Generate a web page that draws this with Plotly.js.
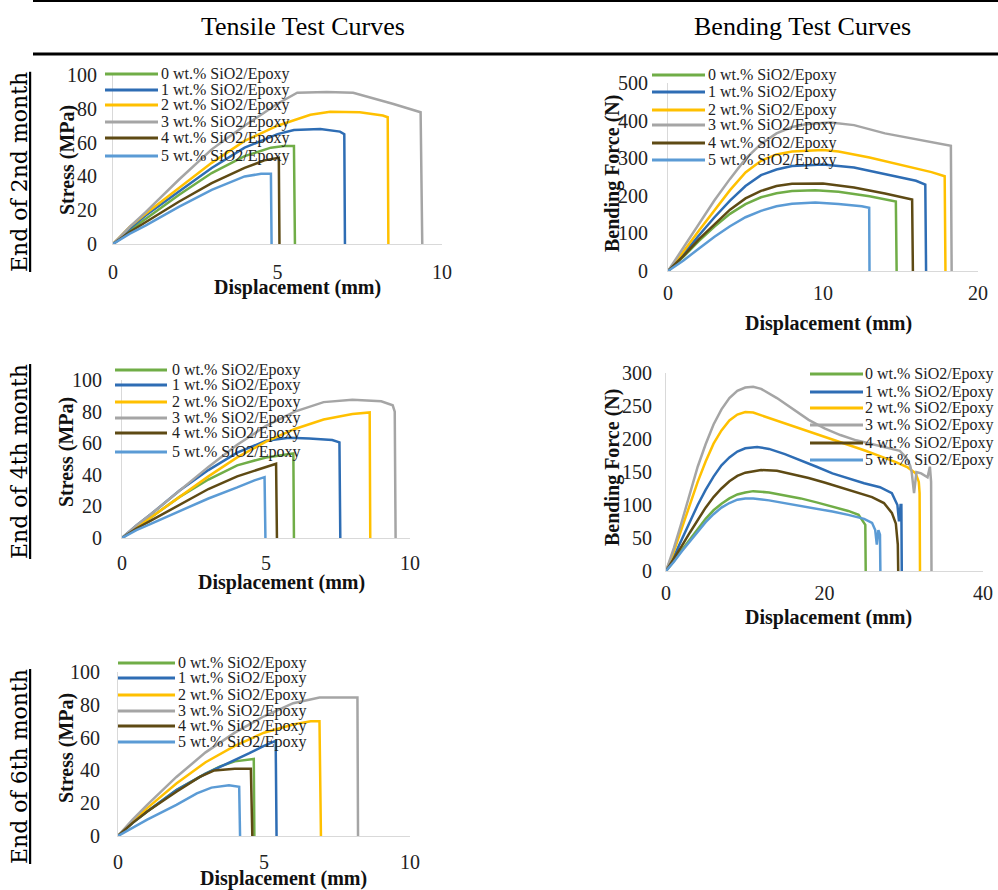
<!DOCTYPE html>
<html><head><meta charset="utf-8">
<script src="https://cdn.plot.ly/plotly-3.0.1.min.js"></script>
<style>html,body{margin:0;padding:0;background:#fff}#chart{width:998px;height:890px}</style>
</head><body><div id="chart"></div>
<script>
// ---------- text ----------
const SERIES = ['0 wt.% SiO2/Epoxy','1 wt.% SiO2/Epoxy','2 wt.% SiO2/Epoxy','3 wt.% SiO2/Epoxy','4 wt.% SiO2/Epoxy','5 wt.% SiO2/Epoxy'];
const HEADERS = ['Tensile Test Curves','Bending Test Curves'];
const ROW_LABELS = ['End of 2nd month','End of 4th month','End of 6th month'];
const X_TITLE = 'Displacement (mm)';
const Y_TITLE_TENSILE = 'Stress (MPa)';
const Y_TITLE_BENDING = 'Bending Force (N)';
// ---------- ticks ----------
const TENSILE_X_TICKS = [0,5,10];
const TENSILE_Y_TICKS = [0,20,40,60,80,100];
const BEND2_X_TICKS = [0,10,20];
const BEND2_Y_TICKS = [0,100,200,300,400,500];
const BEND4_X_TICKS = [0,20,40];
const BEND4_Y_TICKS = [0,50,100,150,200,250,300];

// ---------- data: tensile, end of 2nd month (displacement mm, stress MPa) ----------
const T2_DISP = [
  [0,0.5,1,2,3,4,4.8,5.2,5.5,5.53],
  [0,0.5,1,2,3,4,5,5.5,6.3,6.9,7.03,7.05],
  [0,0.5,1,2,3,4,5,6,6.6,7.5,8.2,8.35,8.37],
  [0,0.5,1,2,3,4,5,5.6,6.5,7.3,8.5,9.35,9.4],
  [0,0.5,1,2,3,4,4.6,5,5.04,5.06],
  [0,0.5,1,2,3,4,4.5,4.8,4.82]
];
const T2_STRESS = [
  [0,8,15,29,42,52,57,58,58,0],
  [0,9,17,31,45,57,65,67.5,68,66.5,65,0],
  [0,10,18,33,48,61,70,76.5,78.3,78,76,75,0],
  [0,10,19,38,56,70,83,89.5,90,89.5,83,78,0],
  [0,7,13,25,36,45,49.5,51,51,0],
  [0,6,11,22,32,40,41.5,41.5,0]
];
// ---------- data: bending, end of 2nd month (displacement mm, force N) ----------
const B2_DISP = [
  [0,1,2,3,4,5,6,7,8,9.5,11,13,14.7,14.75],
  [0,1,2,3,4,5,6,7,8,10,12,14,16,16.6,16.65],
  [0,1,2,3,4,5,6,7,8,10,11,13,15,17,17.85,17.9],
  [0,1,2,3,4,5,6,7,8,9,10.5,12,14,16,18.25,18.3],
  [0,1,2,3,4,5,6,7,8,10,12,14,15.75,15.8],
  [0,1,2,3,4,5,6,7,8,9.5,11,12.5,12.98,13.0]
];
const B2_FORCE = [
  [0,38,80,118,152,178,196,207,213,215,211,199,185,0],
  [0,45,95,143,187,226,255,270,279,283,275,258,240,230,0],
  [0,52,108,163,215,262,293,310,318,322,318,302,283,263,252,0],
  [0,62,127,188,245,298,338,366,383,391,395,388,366,350,333,0],
  [0,40,85,125,163,193,213,226,232,233,222,206,190,0],
  [0,28,60,91,119,143,160,172,179,182,178,172,168,0]
];
// ---------- data: tensile, end of 4th month ----------
const T4_DISP = [
  [0,0.5,1,2,3,4,5,5.5,5.9,5.95,5.97],
  [0,0.5,1,2,3,4,5,5.8,6.5,7.3,7.55,7.58],
  [0,0.5,1,2,3,4,5,6,7,8,8.55,8.6,8.62],
  [0,0.5,1,2,3,4,5,6,7,8,9,9.4,9.47,9.5],
  [0,0.5,1,2,3,4,5,5.35,5.38],
  [0,0.5,1,2,3,4,4.6,4.95,4.98]
];
const T4_STRESS = [
  [0,7,13,26,37,46,51,52.5,53.5,53.5,0],
  [0,8,15,30,43,54,61.5,63.5,63,62,60.5,0],
  [0,7,13,26,39,51,61,69,75,78.5,79.5,79.5,0],
  [0,8,15,30,45,59,71,80,86,87.5,86.5,84,80,0],
  [0,6,11,21,31,39,45,47,0],
  [0,5,9,17,25,32,36.5,38.5,0]
];
// ---------- data: bending, end of 4th month ----------
const B4_DISP = [
  [0,1,2,3,4,5,6,7,8,9,10,11,13,15,17,19,21,23,24.3,24.9,25.15,25.2],
  [0,1,2,3,4,5,6,7,8,9,10,11.5,13,15,17,19,21,23,25,27,28.5,29.2,29.4,29.6,29.7,29.75],
  [0,1,2,3,4,5,6,7,8,9,10,11,13,15,17,19,21,23,25,27,29,30.5,31.5,31.9,32.0,32.05],
  [0,1,2,3,4,5,6,7,8,9,10,11,12,14,16,18,20,22,24,26,28,29.5,30.3,30.8,31.0,31.3,31.6,32.2,33.0,33.3,33.45,33.5],
  [0,1,2,3,4,5,6,7,8,9,10,12,14,16,18,20,22,24,26,27.5,28.5,29.0,29.25,29.3],
  [0,1,2,3,4,5,6,7,8,9,10,11,13,15,17,19,21,23,25,26,26.4,26.6,26.8,27.0,27.05]
];
const B4_FORCE = [
  [0,15,32,48,64,79,92,102,110,116,119,121,119,115,110,104,98,91,85,75,70,0],
  [0,22,48,75,100,123,143,160,172,181,186,188,185,177,168,158,148,140,133,127,118,100,75,100,100,0],
  [0,30,65,100,135,166,193,213,228,237,241,240,232,223,215,208,200,192,183,174,165,157,148,135,118,0],
  [0,35,75,118,158,192,222,245,262,273,278,279,276,262,246,229,216,206,198,192,186,182,172,160,150,118,150,148,142,158,135,0],
  [0,18,38,58,78,96,112,125,136,144,149,153,152,147,141,134,127,120,112,103,88,72,40,0],
  [0,14,30,45,60,74,86,96,103,108,110,110,107,103,99,95,90,85,79,73,62,40,62,55,0]
];
// ---------- data: tensile, end of 6th month ----------
const T6_DISP = [
  [0,0.5,1,2,3,3.5,4,4.6,4.65,4.67],
  [0,0.5,1,2,3,4,4.5,5,5.4,5.43],
  [0,0.5,1,2,3,4,5,6,6.6,6.9,6.95],
  [0,0.5,1,2,3,4,5,6,6.9,7.5,8.2,8.22],
  [0,0.5,1,2,2.8,3.3,4,4.55,4.6],
  [0,0.5,1,2,2.7,3.2,3.8,4.15,4.18]
];
const T6_STRESS = [
  [0,8,15,28,38,42.5,45.5,47,47,0],
  [0,8,15,28,38,46,50.5,55,58,0],
  [0,9,17,32,45,55,63,68,70,70,0],
  [0,10,19,36,51,63,73,81,84.5,84.5,84.5,0],
  [0,8,15,27,36,40,41,41,0],
  [0,5,10,19,26,29.5,31,30,0]
];

// ---------- styles ----------
const COLORS = ['#70AD47','#2E6DB4','#FFC000','#A5A5A5','#5E4A14','#5B9BD5'];
const W = 998, H = 890;
const px = p => p / W;
const py = p => 1 - p / H;
const SERIF = 'Liberation Serif, Times New Roman, serif';

const panels = [
  {xs:T2_DISP, ys:T2_STRESS, xr:[0,10], yr:[0,100], xt:TENSILE_X_TICKS, yt:TENSILE_Y_TICKS,
   dx:[113,442], dy:[75,244], xso:10, yso:11, xtp:[297,287], ytp:[67,160], ytitle:Y_TITLE_TENSILE,
   leg:{x1:105,x2:158,tx:160,rows:[74,90,105,122,138,156]}},
  {xs:B2_DISP, ys:B2_FORCE, xr:[0,20], yr:[0,500], xt:BEND2_X_TICKS, yt:BEND2_Y_TICKS,
   dx:[668,978], dy:[83,271], xso:4, yso:15, xtp:[828,324], ytp:[612,174], ytitle:Y_TITLE_BENDING,
   leg:{x1:652,x2:705,tx:707,rows:[75,92,110,125,143,160]}},
  {xs:T4_DISP, ys:T4_STRESS, xr:[0,10], yr:[0,100], xt:TENSILE_X_TICKS, yt:TENSILE_Y_TICKS,
   dx:[122,410], dy:[380,538], xso:7, yso:15, xtp:[281,582], ytp:[66,452], ytitle:Y_TITLE_TENSILE,
   leg:{x1:115,x2:167,tx:171,rows:[370,385,402,418,433,452]}},
  {xs:B4_DISP, ys:B4_FORCE, xr:[0,40], yr:[0,300], xt:BEND4_X_TICKS, yt:BEND4_Y_TICKS,
   dx:[666,983], dy:[373,571], xso:4, yso:9, xtp:[828,617], ytp:[612,468], ytitle:Y_TITLE_BENDING,
   leg:{x1:810,x2:863,tx:864,rows:[374,392,408,425,443,460]}},
  {xs:T6_DISP, ys:T6_STRESS, xr:[0,10], yr:[0,100], xt:TENSILE_X_TICKS, yt:TENSILE_Y_TICKS,
   dx:[118,410], dy:[672,836], xso:8, yso:13, xtp:[283,878], ytp:[66,748], ytitle:Y_TITLE_TENSILE,
   leg:{x1:118,x2:175,tx:177,rows:[663,678,695,711,726,742]}}
];

const traces = [];
const layout = {
  width: W, height: H, margin:{l:0,r:0,t:0,b:0},
  paper_bgcolor:'#fff', plot_bgcolor:'rgba(0,0,0,0)',
  showlegend:false, hovermode:false,
  annotations:[], shapes:[]
};

panels.forEach((p, i) => {
  const n = i === 0 ? '' : String(i + 1);
  const xa = 'x' + n, ya = 'y' + n;
  p.xs.forEach((xv, s) => {
    traces.push({type:'scatter', mode:'lines', x:xv, y:p.ys[s], xaxis:xa, yaxis:ya,
      name:SERIES[s], line:{color:COLORS[s], width:2.5}, cliponaxis:false});
  });
  const common = {showgrid:false, zeroline:false, showline:true, linecolor:'#D9D9D9', linewidth:1,
    ticks:'', tickfont:{family:SERIF, size:20, color:'#222'}, fixedrange:true};
  layout['xaxis' + n] = Object.assign({}, common, {domain:[px(p.dx[0]), px(p.dx[1])], range:p.xr,
    tickvals:p.xt, anchor:ya, ticklabelstandoff:p.xso});
  layout['yaxis' + n] = Object.assign({}, common, {domain:[py(p.dy[1]), py(p.dy[0])], range:p.yr,
    tickvals:p.yt, anchor:xa, ticklabelstandoff:p.yso});
  // axis titles
  layout.annotations.push({xref:'paper', yref:'paper', x:px(p.xtp[0]), y:py(p.xtp[1]), xanchor:'center', yanchor:'middle',
    text:X_TITLE, showarrow:false, font:{family:SERIF, size:20, color:'#111', weight:'bold'}});
  layout.annotations.push({xref:'paper', yref:'paper', x:px(p.ytp[0]), y:py(p.ytp[1]), xanchor:'center', yanchor:'middle',
    text:p.ytitle, textangle:-90, showarrow:false, font:{family:SERIF, size:20, color:'#111', weight:'bold'}});
  // legend
  p.leg.rows.forEach((r, s) => {
    layout.shapes.push({type:'line', xref:'paper', yref:'paper', x0:px(p.leg.x1), x1:px(p.leg.x2), y0:py(r), y1:py(r),
      line:{color:COLORS[s], width:3}});
    layout.annotations.push({xref:'paper', yref:'paper', x:px(p.leg.tx), y:py(r), xanchor:'left', yanchor:'middle',
      text:SERIES[s], showarrow:false, borderpad:0, font:{family:SERIF, size:16, color:'#222'}});
  });
});

// headers
[303, 802].forEach((cx, k) => {
  layout.annotations.push({xref:'paper', yref:'paper', x:px(cx), y:py(26), xanchor:'center', yanchor:'middle',
    text:HEADERS[k], showarrow:false, font:{family:SERIF, size:26, color:'#000'}});
});
layout.shapes.push({type:'line', xref:'paper', yref:'paper', x0:px(33), x1:px(998), y0:py(1), y1:py(1), line:{color:'#000', width:2}});
layout.shapes.push({type:'line', xref:'paper', yref:'paper', x0:px(33), x1:px(998), y0:py(54), y1:py(54), line:{color:'#000', width:3}});
// row labels
[172, 462, 767].forEach((cy, k) => {
  layout.annotations.push({xref:'paper', yref:'paper', x:px(19), y:py(cy), xanchor:'center', yanchor:'middle',
    text:'<span style="text-decoration:underline">' + ROW_LABELS[k] + '</span>', textangle:-90, showarrow:false,
    font:{family:'DejaVu Serif, serif', size:22, color:'#000'}});
});

Plotly.newPlot('chart', traces, layout, {displayModeBar:false, staticPlot:true});
</script>
</body></html>
